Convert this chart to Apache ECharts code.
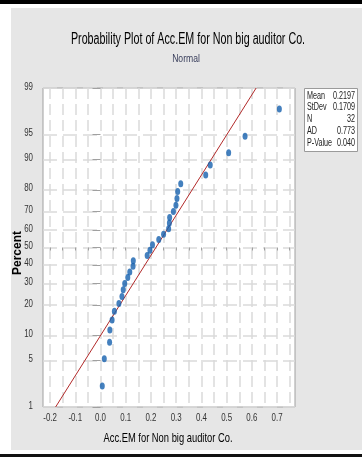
<!DOCTYPE html>
<html><head><meta charset="utf-8">
<script src="https://cdn.jsdelivr.net/npm/echarts@6/dist/echarts.min.js"></script>
<style>html,body{margin:0;padding:0;background:#fff}#c{width:362px;height:462px}</style>
</head><body><div id="c"></div>
<script>
// Data values
const accEM = [0.007, 0.015, 0.036, 0.037, 0.046, 0.055, 0.073, 0.085, 0.090, 0.096, 0.108, 0.116, 0.129, 0.130, 0.185, 0.196, 0.206, 0.231, 0.250, 0.270, 0.273, 0.274, 0.289, 0.299, 0.303, 0.306, 0.318, 0.417, 0.435, 0.508, 0.573, 0.709];
const percentRank = [2.16, 5.25, 8.33, 11.42, 14.51, 17.59, 20.68, 23.77, 26.85, 29.94, 33.02, 36.11, 39.20, 42.28, 45.37, 48.46, 51.54, 54.63, 57.72, 60.80, 63.89, 66.98, 70.06, 73.15, 76.23, 79.32, 82.41, 85.49, 88.58, 91.67, 94.75, 97.84];
const yTickPercents = [1, 5, 10, 20, 30, 40, 50, 60, 70, 80, 90, 95, 99];
const xTickLabels = [-0.2, -0.1, 0.0, 0.1, 0.2, 0.3, 0.4, 0.5, 0.6, 0.7];
const xGridValues = [-0.2, -0.15, -0.1, -0.05, 0.0, 0.05, 0.1, 0.15, 0.2, 0.25, 0.3, 0.35, 0.4, 0.45, 0.5, 0.55, 0.6, 0.65, 0.7, 0.75];
const fitLine = [[-0.178, 1], [0.617, 99]];
const statNames = ['Mean', 'StDev', 'N', 'AD', 'P-Value'];
const statValues = ['0.2197', '0.1709', '32', '0.773', '0.040'];

// inverse normal CDF (probability axis transform)
function probit(p) {
  const a=[-3.969683028665376e+01,2.209460984245205e+02,-2.759285104469687e+02,1.383577518672690e+02,-3.066479806614716e+01,2.506628277459239e+00];
  const b=[-5.447609879822406e+01,1.615858368580409e+02,-1.556989798598866e+02,6.680131188771972e+01,-1.328068155288572e+01];
  const c=[-7.784894002430293e-03,-3.223964580411365e-01,-2.400758277161838e+00,-2.549732539343734e+00,4.374664141464968e+00,2.938163982698783e+00];
  const d=[7.784695709041462e-03,3.224671290700398e-01,2.445134137142996e+00,3.754408661907416e+00];
  const pl=0.02425, ph=1-pl; let q,r;
  if (p<pl){q=Math.sqrt(-2*Math.log(p));return (((((c[0]*q+c[1])*q+c[2])*q+c[3])*q+c[4])*q+c[5])/((((d[0]*q+d[1])*q+d[2])*q+d[3])*q+1);}
  if (p<=ph){q=p-0.5;r=q*q;return (((((a[0]*r+a[1])*r+a[2])*r+a[3])*r+a[4])*r+a[5])*q/(((((b[0]*r+b[1])*r+b[2])*r+b[3])*r+b[4])*r+1);}
  q=Math.sqrt(-2*Math.log(1-p));return -(((((c[0]*q+c[1])*q+c[2])*q+c[3])*q+c[4])*q+c[5])/((((d[0]*q+d[1])*q+d[2])*q+d[3])*q+1);
}
const z = p => probit(p / 100);
const yTickZ = yTickPercents.map(z);
const zMin = z(1), zMax = z(99);
const xMin = -0.228, xMax = 0.771;

const FONT = '"Liberation Sans", Arial, sans-serif';
const chart = echarts.init(document.getElementById('c'), null, {renderer: 'canvas'});

function condensedText(text, x, y, size, sx, fill, align, weight) {
  return {type: 'text', x: x, y: y, scaleX: sx, z: 6, silent: true,
    style: {text: text, font: (weight || 'normal') + ' ' + size + 'px ' + FONT, fill: fill,
      align: align, verticalAlign: 'middle', textAlign: align, textVerticalAlign: 'middle'}};
}

const statGraphics = [];
statNames.forEach((n, i) => {
  statGraphics.push(condensedText(n, 307, 96 + i * 11.7, 10, 0.72, '#222', 'left'));
  statGraphics.push(condensedText(statValues[i], 355, 96 + i * 11.7, 10, 0.72, '#222', 'right'));
});

chart.setOption({
  animation: false,
  backgroundColor: '#ffffff',
  graphic: [
    {type: 'rect', shape: {x: 11, y: 8, width: 351, height: 442}, style: {fill: '#e6e6e6'}, z: -10},
    {type: 'rect', shape: {x: 0, y: 0, width: 362, height: 4}, style: {fill: '#000'}, z: -9},
    {type: 'rect', shape: {x: 0, y: 454, width: 362, height: 3}, style: {fill: '#111'}, z: -9},
    {type: 'rect', shape: {x: 304.5, y: 88.5, width: 53, height: 63}, style: {fill: '#fff', stroke: '#9a9a9a', lineWidth: 1}, z: 5},
    condensedText('Probability Plot of Acc.EM for Non big auditor Co.', 188, 40, 16, 0.67, '#000', 'center'),
    condensedText('Normal', 186, 59, 11, 0.78, '#3a3f5c', 'center'),
    condensedText('Acc.EM for Non big auditor Co.', 168, 438, 13, 0.72, '#000', 'center'),
    {type: 'text', x: 18, y: 253, rotation: Math.PI / 2, z: 6, silent: true,
     style: {text: 'Percent', font: 'bold 12px ' + FONT, fill: '#000',
       align: 'center', verticalAlign: 'middle', textAlign: 'center', textVerticalAlign: 'middle'}},
    ...statGraphics
  ],
  grid: {left: 43, right: 67, top: 88, bottom: 55, show: true, backgroundColor: '#fff', borderColor: '#a0a0a0', borderWidth: 1},
  xAxis: {
    type: 'value', min: xMin, max: xMax,
    axisLine: {show: false},
    axisTick: {show: true, customValues: xGridValues, length: 3, lineStyle: {color: '#a0a0a0'}},
    axisLabel: {show: false},
    splitLine: {show: true, lineStyle: {color: '#dadada', width: 1.5, type: [11, 5]}}
  },
  yAxis: {
    type: 'value', min: zMin, max: zMax,
    axisLine: {show: false},
    axisTick: {show: true, customValues: yTickZ, length: 8, lineStyle: {color: '#a0a0a0'}},
    axisLabel: {show: false},
    splitLine: {show: true, lineStyle: {color: '#dadada', width: 1.5, type: [14, 6]}}
  },
  series: [
    {type: 'line', data: fitLine.map(p => [p[0], z(p[1])]), symbol: 'none', lineStyle: {color: '#b22a2a', width: 1}, z: 3},
    {type: 'scatter', data: accEM.map((v, i) => [v, z(percentRank[i])]), symbol: 'circle', symbolSize: [5, 7],
     itemStyle: {color: '#1560ae'}, z: 4},
    // y tick labels (percent), placed with the axis scale
    {type: 'custom', clip: false, silent: true, encode: {x: 0, y: 1},
     data: yTickZ.map((v, i) => [xMin, v, yTickPercents[i]]),
     renderItem: (params, api) => {
       const p = api.coord([api.value(0), api.value(1)]);
       return {type: 'text', x: p[0] - 10, y: p[1] - 1.5, scaleX: 0.72,
         style: {text: String(api.value(2)), font: '11px ' + FONT, fill: '#333',
           align: 'right', verticalAlign: 'middle', textAlign: 'right', textVerticalAlign: 'middle'}};
     }},
    // x tick labels
    {type: 'custom', clip: false, silent: true, encode: {x: 0, y: 1},
     data: xTickLabels.map(v => [v, zMin]),
     renderItem: (params, api) => {
       const p = api.coord([api.value(0), api.value(1)]);
       return {type: 'text', x: p[0], y: p[1] + 11, scaleX: 0.72,
         style: {text: api.value(0).toFixed(1), font: '11px ' + FONT, fill: '#333',
           align: 'center', verticalAlign: 'middle', textAlign: 'center', textVerticalAlign: 'middle'}};
     }}
  ]
});
</script></body></html>
